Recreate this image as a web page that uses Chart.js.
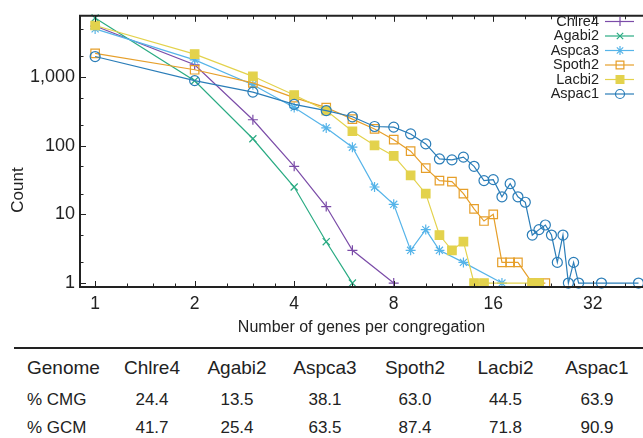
<!DOCTYPE html>
<html>
<head>
<meta charset="utf-8">
<script src="https://cdn.jsdelivr.net/npm/chart.js@4.4.1/dist/chart.umd.min.js"></script>
<style>
  body { margin: 0; background: #fff; font-family: "Liberation Sans", Arial, sans-serif; color: #222; }
  #wrap { position: relative; width: 643px; height: 438px; overflow: hidden; }
  #plot { position: absolute; left: 0; top: 0; }
  table.stats { position: absolute; left: 14px; top: 347px; width: 629px; border-collapse: collapse; table-layout: fixed; }
  table.stats th, table.stats td { padding: 0; text-align: center; white-space: nowrap; }
  table.stats th:first-child, table.stats td:first-child { text-align: left; padding-left: 13px; }
  table.stats thead tr { border-top: 2px solid #222; height: 38px; }
  table.stats th { font-weight: normal; font-size: 19px; }
  table.stats td { font-size: 17px; height: 28px; }
</style>
</head>
<body>
<div id="wrap">
  <canvas id="plot" width="643" height="340"></canvas>
  <table class="stats" id="statsTable"></table>
</div>
<script>
// congregation size (genes) -> number of congregations, one pair of arrays per genome
const chlre4X = [1, 2, 3, 4, 5, 6, 8];
const chlre4Y = [5500, 1500, 238, 50, 13, 3, 1];
const agabi2X = [1, 2, 3, 4, 5, 6];
const agabi2Y = [7200, 880, 126, 25, 4, 1];
const aspca3X = [1, 2, 3, 4, 5, 6, 7, 8, 9, 10, 11, 13, 17];
const aspca3Y = [5000, 1770, 770, 358, 181, 95, 25, 14, 3, 6, 3, 2, 1];
const spoth2X = [1, 2, 3, 4, 5, 6, 7, 8, 9, 10, 11, 12, 13, 14, 15, 16, 17, 18, 19, 21, 22, 23];
const spoth2Y = [2200, 1270, 817, 500, 358, 243, 175, 122, 83, 47, 31, 30, 20, 12, 8, 10, 2, 2, 2, 1, 1, 1];
const lacbi2X = [1, 2, 3, 4, 5, 6, 7, 8, 9, 10, 11, 12, 13, 14, 15, 21, 22];
const lacbi2Y = [5600, 2150, 1020, 545, 324, 162, 101, 71, 37, 20, 5, 3, 4, 1, 1, 1, 1];
const aspac1X = [1, 2, 3, 4, 5, 6, 7, 8, 9, 10, 11, 12, 13, 14, 15, 16, 17, 18, 19, 20, 21, 22, 23, 24, 25, 26, 27, 28, 29, 34, 44];
const aspac1Y = [1980, 883, 601, 399, 324, 263, 190, 186, 148, 106, 64, 62, 68, 50, 31, 32, 18, 28, 18, 15, 5, 6, 7, 5, 2, 5, 1, 2, 1, 1, 1];

const xTicks = [1, 2, 4, 8, 16, 32];
const yTicks = [1, 10, 100, 1000];

// summary table
const genomes = ['Chlre4', 'Agabi2', 'Aspca3', 'Spoth2', 'Lacbi2', 'Aspac1'];
const pctCMG = ['24.4', '13.5', '38.1', '63.0', '44.5', '63.9'];
const pctGCM = ['41.7', '25.4', '63.5', '87.4', '71.8', '90.9'];

const FONT = '"Liberation Sans", Arial, sans-serif';
const INK = '#222';

function pts(xs, ys) {
  return xs.map((x, i) => ({ x: x, y: ys[i] }));
}

function series(label, xs, ys, color, style, radius, fill, order) {
  return {
    label: label,
    data: pts(xs, ys),
    borderColor: color,
    backgroundColor: fill,
    borderWidth: 1.2,
    pointStyle: style,
    pointRadius: radius,
    pointHoverRadius: radius,
    pointBorderColor: color,
    pointBackgroundColor: fill,
    pointBorderWidth: 1.2,
    tension: 0,
    clip: false,
    order: order
  };
}

const datasets = [
  series('Chlre4', chlre4X, chlre4Y, '#7b4ca8', 'cross', 5, 'rgba(0,0,0,0)', 6),
  series('Agabi2', agabi2X, agabi2Y, '#2aab83', 'crossRot', 5, 'rgba(0,0,0,0)', 5),
  series('Aspca3', aspca3X, aspca3Y, '#56b4e9', 'star', 5, 'rgba(0,0,0,0)', 4),
  series('Spoth2', spoth2X, spoth2Y, '#e69f2a', 'rect', 6, 'rgba(0,0,0,0)', 3),
  series('Lacbi2', lacbi2X, lacbi2Y, '#e3d24c', 'rect', 6, '#e3d24c', 2),
  series('Aspac1', aspac1X, aspac1Y, '#2a7db8', 'circle', 5, 'rgba(0,0,0,0)', 1)
];

// border, inward tick marks (mirrored on top), y label and the key
const framePlugin = {
  id: 'frame',
  afterDraw(chart) {
    const { ctx, chartArea: a, scales: { x, y } } = chart;
    ctx.save();
    ctx.strokeStyle = INK;
    ctx.lineWidth = 2;
    ctx.beginPath();
    ctx.moveTo(a.right, a.top); ctx.lineTo(a.left, a.top); ctx.lineTo(a.left, a.bottom); ctx.lineTo(a.right, a.bottom);
    ctx.stroke();

    ctx.lineWidth = 1;
    ctx.beginPath();
    // x: octaves with quarter subdivisions
    for (let p = 1; p <= 32; p *= 2) {
      for (let k = 0; k < 4; k++) {
        const v = p * (1 + k / 4);
        if (v < x.min || v > x.max) continue;
        const px = Math.round(x.getPixelForValue(v)) + 0.5;
        const len = k === 0 ? 6 : 3.5;
        ctx.moveTo(px, a.bottom); ctx.lineTo(px, a.bottom - len);
        ctx.moveTo(px, a.top); ctx.lineTo(px, a.top + len);
      }
    }
    // y: decades with 2 and 5
    for (let d = 1; d <= 1000; d *= 10) {
      [1, 2, 5].forEach(m => {
        const v = d * m;
        if (v < y.min || v > y.max) return;
        const py = Math.round(y.getPixelForValue(v)) + 0.5;
        ctx.moveTo(a.left, py); ctx.lineTo(a.left + (m === 1 ? 6 : 3.5), py);
      });
    }
    ctx.stroke();

    ctx.fillStyle = INK;
    ctx.font = '17px ' + FONT;
    ctx.textAlign = 'center';
    ctx.textBaseline = 'middle';
    ctx.translate(18, 190);
    ctx.rotate(-Math.PI / 2);
    ctx.fillText('Count', 0, 0);
    ctx.restore();

    // key, top right
    ctx.save();
    ctx.font = '14.5px ' + FONT;
    ctx.textAlign = 'right';
    ctx.textBaseline = 'middle';
    chart.data.datasets.forEach((ds, i) => {
      const ly = 21.5 + i * 14.5;
      ctx.fillStyle = INK;
      ctx.fillText(ds.label, 599, ly);
      ctx.strokeStyle = ds.borderColor;
      ctx.lineWidth = 1.2;
      ctx.beginPath();
      ctx.moveTo(605, ly); ctx.lineTo(634, ly);
      ctx.stroke();
      ctx.fillStyle = ds.pointBackgroundColor;
      Chart.helpers.drawPoint(ctx, { pointStyle: ds.pointStyle, radius: ds.pointRadius - 0.5, rotation: 0, borderWidth: 1.2 }, 620, ly);
    });
    ctx.restore();
  }
};

new Chart(document.getElementById('plot'), {
  type: 'line',
  data: { datasets: datasets },
  options: {
    responsive: false,
    animation: false,
    layout: { autoPadding: false, padding: { top: 12, right: 0, left: 0, bottom: 0 } },
    plugins: { legend: { display: false }, tooltip: { enabled: false } },
    scales: {
      x: {
        type: 'logarithmic',
        min: 0.9,
        max: 45.4,
        grid: { display: false, drawTicks: false },
        border: { display: false },
        afterBuildTicks: s => { s.ticks = xTicks.map(v => ({ value: v })); },
        afterFit: s => { s.height = 53; },
        ticks: {
          autoSkip: false, maxRotation: 0, padding: 7, color: INK,
          font: { family: FONT, size: 17.5 },
          callback: v => String(v)
        },
        title: {
          display: true, text: 'Number of genes per congregation', color: INK,
          font: { family: FONT, size: 16 }, padding: { top: 2, bottom: 3 }
        }
      },
      y: {
        type: 'logarithmic',
        min: 0.877,
        max: 7750,
        grid: { display: false, drawTicks: false },
        border: { display: false },
        afterBuildTicks: s => { s.ticks = yTicks.map(v => ({ value: v })); },
        afterFit: s => { s.width = 80; },
        ticks: {
          autoSkip: false, padding: 5, color: INK,
          font: { family: FONT, size: 18 },
          callback: v => v.toLocaleString('en-US')
        }
      }
    }
  },
  plugins: [framePlugin]
});

// table under the plot
const tbl = document.getElementById('statsTable');
const widths = [96, 84, 86, 90, 90, 91, 92];
let html = '<colgroup>' + widths.map(w => '<col style="width:' + w + 'px">').join('') + '</colgroup>';
html += '<thead><tr><th>Genome</th>' + genomes.map(g => '<th>' + g + '</th>').join('') + '</tr></thead>';
html += '<tbody><tr><td>% CMG</td>' + pctCMG.map(v => '<td>' + v + '</td>').join('') + '</tr>';
html += '<tr><td>% GCM</td>' + pctGCM.map(v => '<td>' + v + '</td>').join('') + '</tr></tbody>';
tbl.innerHTML = html;
</script>
</body>
</html>
